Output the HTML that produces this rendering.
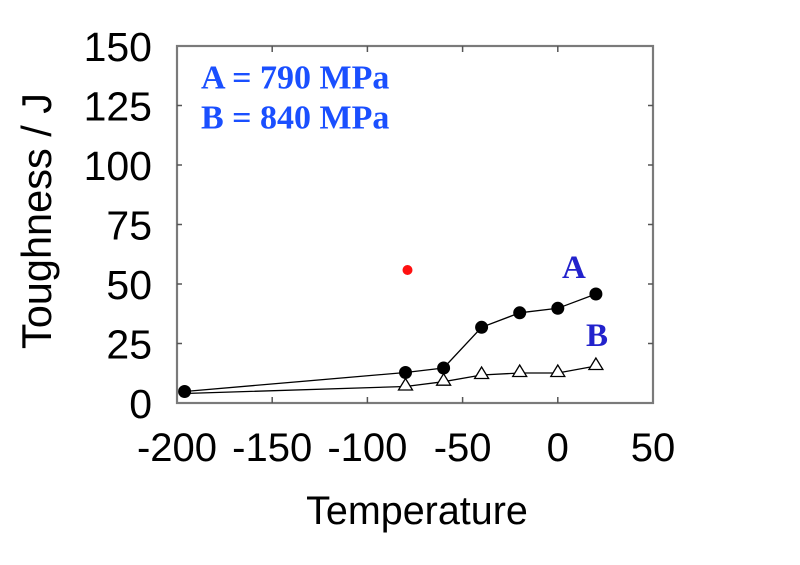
<!DOCTYPE html>
<html>
<head>
<meta charset="utf-8">
<style>
html,body{margin:0;padding:0;background:#fff;}
svg{display:block;}
</style>
</head>
<body>
<svg width="800" height="565" viewBox="0 0 800 565" xmlns="http://www.w3.org/2000/svg">
<rect x="0" y="0" width="800" height="565" fill="#fff"/>
<!-- frame -->
<rect x="177" y="46" width="476" height="357" fill="none" stroke="#7a7a7a" stroke-width="2.2"/>
<!-- ticks -->
<g stroke="#555" stroke-width="1.5">
<line x1="272.2" y1="403" x2="272.2" y2="397"/>
<line x1="367.4" y1="403" x2="367.4" y2="397"/>
<line x1="462.6" y1="403" x2="462.6" y2="397"/>
<line x1="557.8" y1="403" x2="557.8" y2="397"/>
<line x1="272.2" y1="46" x2="272.2" y2="52"/>
<line x1="367.4" y1="46" x2="367.4" y2="52"/>
<line x1="462.6" y1="46" x2="462.6" y2="52"/>
<line x1="557.8" y1="46" x2="557.8" y2="52"/>
<line x1="177" y1="343.5" x2="182" y2="343.5"/>
<line x1="177" y1="284" x2="182" y2="284"/>
<line x1="177" y1="224.5" x2="182" y2="224.5"/>
<line x1="177" y1="165" x2="182" y2="165"/>
<line x1="177" y1="105.5" x2="182" y2="105.5"/>
<line x1="653" y1="343.5" x2="648" y2="343.5"/>
<line x1="653" y1="284" x2="648" y2="284"/>
<line x1="653" y1="224.5" x2="648" y2="224.5"/>
<line x1="653" y1="165" x2="648" y2="165"/>
<line x1="653" y1="105.5" x2="648" y2="105.5"/>
</g>
<!-- y tick labels -->
<g font-family="'Liberation Sans', sans-serif" font-size="41" fill="#000" text-anchor="end">
<text x="152" y="61">150</text>
<text x="152" y="120.5">125</text>
<text x="152" y="180">100</text>
<text x="152" y="239.5">75</text>
<text x="152" y="299">50</text>
<text x="152" y="358.5">25</text>
<text x="152" y="418">0</text>
</g>
<!-- x tick labels -->
<g font-family="'Liberation Sans', sans-serif" font-size="40" fill="#000" text-anchor="middle">
<text x="177" y="461">-200</text>
<text x="272.2" y="461">-150</text>
<text x="367.4" y="461">-100</text>
<text x="462.6" y="461">-50</text>
<text x="557.8" y="461">0</text>
<text x="653" y="461">50</text>
</g>
<!-- axis titles -->
<text x="417" y="524" font-family="'Liberation Sans', sans-serif" font-size="39.5" text-anchor="middle" fill="#000">Temperature</text>
<text transform="translate(51,221) rotate(-90)" font-family="'Liberation Sans', sans-serif" font-size="41.5" text-anchor="middle" fill="#000">Toughness / J</text>
<!-- series B line -->
<polyline points="184.6,393.5 405.5,386.5 443.6,381.7 481.6,375 519.7,373 557.8,373 595.9,366" fill="none" stroke="#000" stroke-width="1.3"/>
<!-- series A line -->
<polyline points="184.6,391.5 405.5,372.5 443.6,368 481.6,327.3 519.7,312.8 557.8,308.3 595.9,294" fill="none" stroke="#000" stroke-width="1.3"/>
<!-- B triangles -->
<g fill="#fff" stroke="#000" stroke-width="1.3">
<polygon points="405.5,378.5 398.5,390 412.5,390"/>
<polygon points="443.6,373.7 436.6,385.2 450.6,385.2"/>
<polygon points="481.6,367 474.6,378.5 488.6,378.5"/>
<polygon points="519.7,365 512.7,376.5 526.7,376.5"/>
<polygon points="557.8,365 550.8,376.5 564.8,376.5"/>
<polygon points="595.9,358 588.9,369.5 602.9,369.5"/>
</g>
<!-- A circles -->
<g fill="#000">
<circle cx="184.6" cy="391.5" r="6.5"/>
<circle cx="405.5" cy="372.5" r="6.5"/>
<circle cx="443.6" cy="368" r="6.5"/>
<circle cx="481.6" cy="327.3" r="6.5"/>
<circle cx="519.7" cy="312.8" r="6.5"/>
<circle cx="557.8" cy="308.3" r="6.5"/>
<circle cx="595.9" cy="294" r="6.5"/>
</g>
<!-- red point -->
<circle cx="407.5" cy="270" r="5" fill="#ff1010"/>
<!-- series labels -->
<g font-family="'Liberation Serif', serif" font-weight="bold" font-size="33" fill="#2222cc">
<text x="562" y="278">A</text>
<text x="586" y="346">B</text>
</g>
<!-- legend -->
<g font-family="'Liberation Serif', serif" font-weight="bold" font-size="34" fill="#1a4fff">
<text x="201" y="88.3">A = 790 MPa</text>
<text x="201" y="128.3">B = 840 MPa</text>
</g>
</svg>
</body>
</html>
